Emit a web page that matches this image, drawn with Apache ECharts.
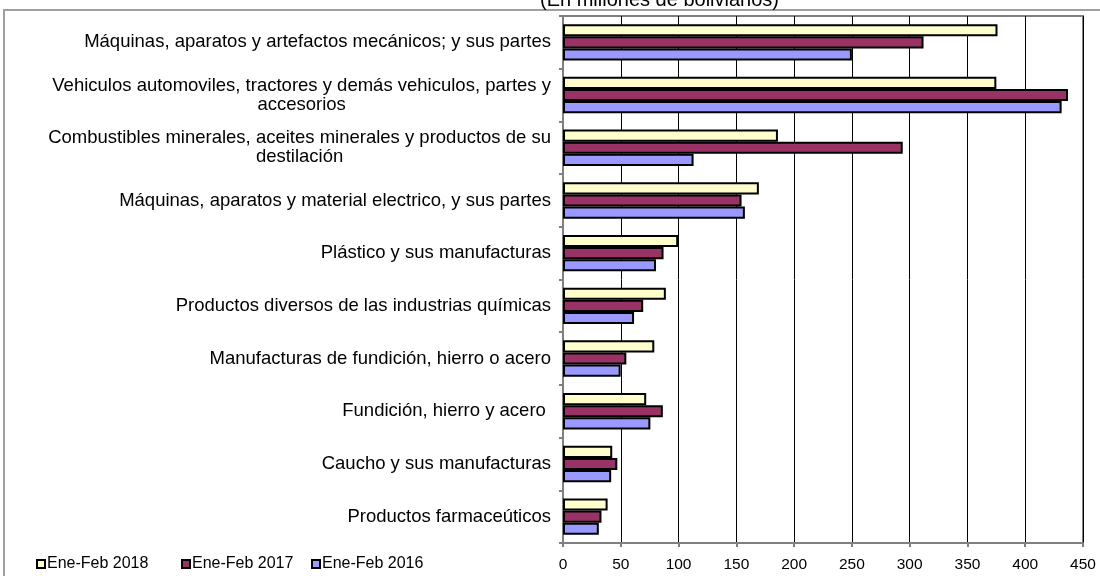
<!DOCTYPE html>
<html>
<head>
<meta charset="utf-8">
<script src="https://cdn.jsdelivr.net/npm/echarts@6/dist/echarts.min.js"></script>
<style>
  html, body { margin: 0; padding: 0; background: #fff; }
  #chart { width: 1100px; height: 576px; }
</style>
</head>
<body>
<div id="chart"></div>
<script>
// categories top to bottom
const categories = [
  'Máquinas, aparatos y artefactos mecánicos; y sus partes',
  'Vehiculos automoviles, tractores y demás vehiculos, partes y\naccesorios',
  'Combustibles minerales, aceites minerales y productos de su\ndestilación',
  'Máquinas, aparatos y material electrico, y sus partes',
  'Plástico y sus manufacturas',
  'Productos diversos de las industrias químicas',
  'Manufacturas de fundición, hierro o acero',
  'Fundición, hierro y acero ',
  'Caucho y sus manufacturas',
  'Productos farmaceúticos'
];
const seriesNames = ['Ene-Feb 2018', 'Ene-Feb 2017', 'Ene-Feb 2016'];
const values2018 = [376, 375, 186, 169.5, 99.7, 89, 79, 72, 42.6, 38.6];
const values2017 = [312, 437, 294, 154.5, 87, 69.4, 54.8, 86.4, 47, 33.3];
const values2016 = [250, 431.5, 113, 157.4, 80.5, 61.5, 49.9, 75.6, 41.7, 31];
const colors = ['#FFFFCC', '#993366', '#9999FF'];

const font = '"Liberation Sans", Arial, sans-serif';
const chart = echarts.init(document.getElementById('chart'));

const makeSeries = (name, data, color) => ({
  name: name,
  type: 'bar',
  data: data,
  barGap: '0%',
  barCategoryGap: '31%',
  itemStyle: { color: color, borderColor: '#000', borderWidth: 2 },
  emphasis: { disabled: true }
});

// excel spaces the legend entries unevenly, so one legend per entry
const legendLeft = [31, 176, 306];
const legends = seriesNames.map((name, i) => ({
  data: [name],
  left: legendLeft[i],
  top: 551,
  itemWidth: 8,
  itemHeight: 8,
  icon: 'rect',
  textStyle: { fontSize: 16, color: '#000', fontFamily: font, padding: [0, 0, 0, -3] }
}));

chart.setOption({
  animation: false,
  textStyle: { fontFamily: font },
  title: {
    text: '(En millones de bolivianos)',
    left: 535,
    top: -15,
    textStyle: { fontSize: 20, fontWeight: 'normal', color: '#000', fontFamily: font }
  },
  graphic: [{
    type: 'rect',
    shape: { x: 4, y: 10, width: 1110, height: 600 },
    style: { fill: 'none', stroke: '#a0a0a0', lineWidth: 2 },
    silent: true
  }],
  legend: legends,
  grid: {
    left: 563,
    right: 17,
    top: 16,
    bottom: 33,
    show: true,
    borderColor: '#808080',
    borderWidth: 2,
    outerBoundsMode: 'none'
  },
  xAxis: {
    type: 'value',
    min: 0,
    max: 450,
    interval: 50,
    axisLine: { show: true, lineStyle: { color: '#808080', width: 2 } },
    axisTick: { show: true, length: 4, lineStyle: { color: '#808080', width: 2 } },
    splitLine: { show: true, lineStyle: { color: '#000', width: 1 } },
    axisLabel: { fontSize: 15.5, color: '#000', margin: 14, fontFamily: font }
  },
  yAxis: {
    type: 'category',
    data: categories,
    inverse: true,
    axisLine: { show: true, lineStyle: { color: '#808080', width: 2 } },
    axisTick: { show: true, length: 4, lineStyle: { color: '#808080', width: 2 } },
    axisLabel: {
      fontSize: 18.5,
      color: '#000',
      margin: 12,
      lineHeight: 19,
      fontFamily: font,
      formatter: (v) => v.split('\n').map((s) => '{c|' + s + '}').join('\n'),
      rich: {
        c: { align: 'center', fontSize: 18.5, lineHeight: 19, color: '#000', fontFamily: font }
      }
    }
  },
  series: [
    makeSeries(seriesNames[0], values2018, colors[0]),
    makeSeries(seriesNames[1], values2017, colors[1]),
    makeSeries(seriesNames[2], values2016, colors[2])
  ]
});
</script>
</body>
</html>
